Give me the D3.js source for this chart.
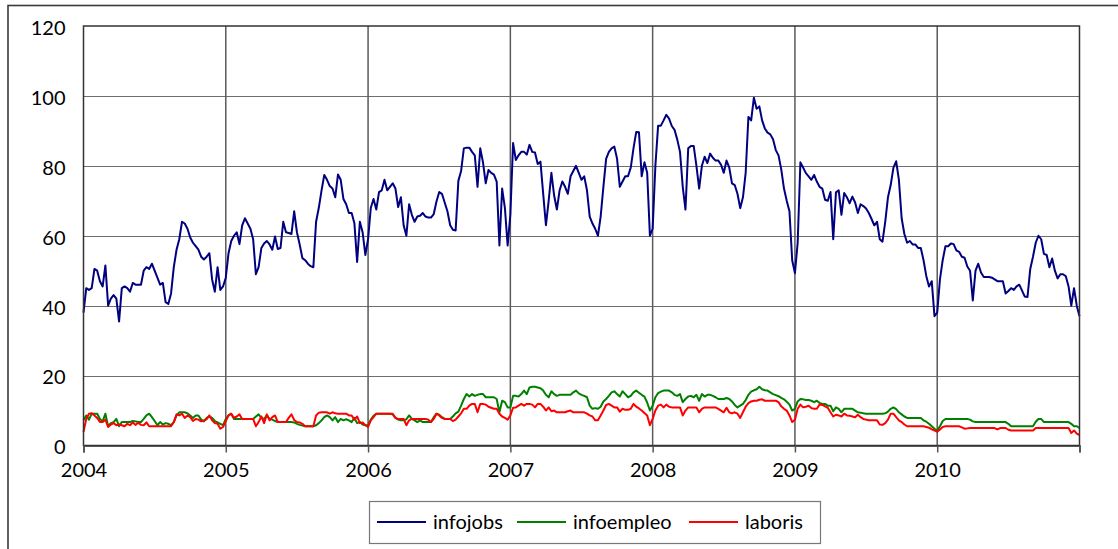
<!DOCTYPE html>
<html><head><meta charset="utf-8">
<script src="https://cdn.jsdelivr.net/npm/d3@7"></script>
<style>
body{margin:0;background:#fff}
svg{display:block}
text{font-family:Lato,"Open Sans",sans-serif;fill:#000}
</style>
</head><body>
<svg id="chart" width="1118" height="549"></svg>
<script>
// ---- data (weekly values, first week of 2004 to last week of 2010) ----
const yearLabels = ["2004","2005","2006","2007","2008","2009","2010"];
const yTickValues = [0,20,40,60,80,100,120];
const seriesNames = ["infojobs","infoempleo","laboris"];
const seriesColors = ["#000080","#008000","#ff0000"];

const infojobs = [
 38,45,44.5,45,50.5,50,47,45.5,51.5,40,42,43,42,35.5,45,45.5,45,44,46.5,46,46,46,50,51,50.5,52,
 50,48,46,46.5,41,40.5,43.5,51,56,59,64,63.5,62,59.5,58,57,56,54,53.2,54,55,47.5,44,51,44.5,45.5,
 48,55,58.5,60,61,57.6,63,65,63.5,62,59,49,51,56.5,57.8,58.5,57.5,56,59.8,56.2,56.5,64,61,60.8,
 60.5,67,61,57.5,53.6,53,52,51.3,51,64,68,73,77.4,76,74.2,73.5,71,77.5,76,70.5,69,66.5,66.5,63.6,52.5,64,61,54.5,
 59,68,70.5,67.5,72.5,73,76,73,74,75,73.5,68.2,71,63,60,69,66,64,65.5,65.7,66.5,65.5,65.2,65.2,66.2,69.8,
 72.5,72,69.5,67,63,61.7,61.5,75.7,78.5,85,85.2,85.2,84,83,74,85,81,75,78.8,78,77.5,75.5,57.2,73.5,68,57.2,
 66,86.5,81.7,83,84,84,83.2,86,84,83.8,80.5,81.2,72,63,70,78,71.5,67.5,73,75.5,74,72,77,78.5,80,78,
 76,77,73,65.5,63.5,62,60,65.5,74,82,84,85,85.5,82,74,75.5,77,77,79.5,85,89.7,89.6,77,81,78,60,
 62,80,91.5,91.5,93,94.6,93.5,91.4,90.3,87.5,84,74,67.5,85,85.7,85.7,80,73.5,80,82.6,80.8,83.5,82.3,81.5,81.5,80.3,
 78,81.5,79.5,75,74.5,72,67.9,71,78,94,93,99.5,96.3,97,93,90.7,89.5,89,87.6,84.5,83,79,73.5,70,67,53,
 49.3,58,81,79.5,77.9,77,76,77.4,75.5,74,73.5,70.3,70,72.5,59,72.4,73,66,72.2,71,69.3,71.2,69.5,66.5,69,68.5,
 67.8,66.5,64.8,63,64,59,58.3,64,71,74.5,79.5,81.3,76,65,60.5,58,58.5,57.5,57.5,56.5,56.5,53,48.5,45.5,47,37,
 38,47.5,53,57,57,57.8,57.6,55.8,55.4,54,53.7,51.2,50,41.5,50,52,49.5,48.2,48.2,48.2,48,47.5,47,47,47,43.5,
 44.2,45,44.5,45.5,46,44.3,42.6,42.5,50.5,54,58,60,59,54.8,54.5,51,53.5,50,47.8,49,49,48.4,45.5,40,45,40,37
];

const infoempleo = [
 7.2,8.6,7.4,9.1,9.1,9.1,7.6,6.9,9.1,5.5,6.4,6.7,7.6,5.5,6.7,6.7,6.7,6.7,7.0,6.9,6.7,6.7,7.6,8.6,9.1,8.1,
 7.0,5.8,6.7,6.0,6.4,6.2,5.8,6.7,8.6,9.5,9.5,9.5,9.2,8.6,7.9,8.6,8.6,7.4,6.9,7.9,8.3,7.9,7.0,6.6,6.2,5.8,
 7.6,8.6,9.1,7.6,7.6,7.6,7.6,7.6,7.6,7.6,7.6,8.3,8.9,7.9,7.6,8.6,7.6,7.4,7.0,6.7,6.7,6.7,6.7,6.7,6.7,6.6,
 6.2,5.9,5.7,5.5,5.5,5.5,5.5,5.8,6.4,7.2,8.1,8.6,8.1,7.2,8.1,6.7,7.6,7.2,7.5,7.2,6.7,7.9,6.4,6.7,6.0,5.8,
 5.8,7.4,8.5,9.1,9.1,9.1,9.1,9.1,9.1,8.9,7.9,7.4,7.2,7.2,7.5,8.6,7.6,7.2,6.7,7.2,6.7,6.7,6.7,6.7,8.1,9.1,
 8.8,8.1,7.6,7.6,7.6,8.3,9.2,9.7,11.4,13.3,14.7,14.0,14.7,14.2,14.5,14.7,14.7,13.8,13.8,13.8,13.8,13.3,9.5,12.8,12.4,10.9,
 10.9,14.2,14.2,14.0,14.7,15.7,14.7,16.6,16.8,16.8,16.6,16.4,15.7,14.5,13.8,15.5,14.7,14.2,14.5,14.5,14.5,14.5,14.5,15.2,15.7,14.9,
 14.5,14.2,13.8,11.4,10.5,10.7,10.5,11.1,12.6,13.3,14.2,15.2,15.5,14.7,14.0,15.5,14.7,13.8,14.2,15.2,15.7,15.1,14.5,14.0,12.3,10.0,
 11.4,13.8,15.0,15.4,15.7,15.7,15.7,15.2,14.5,14.2,14.7,12.4,13.3,14.0,14.2,13.8,14.5,12.8,14.7,14.0,14.5,14.5,14.2,13.8,13.3,13.3,
 13.3,13.6,13.3,12.6,11.6,10.9,11.4,11.9,13.0,14.5,15.4,15.8,16.1,16.8,16.1,15.8,15.7,15.2,14.7,14.4,14.1,13.6,13.2,12.5,11.7,10.0,
 10.5,12.6,13.3,13.2,13.0,13.0,12.8,12.4,12.8,12.2,11.9,11.9,11.4,11.4,9.8,10.9,10.5,9.5,10.5,10.5,10.5,10.5,10.0,9.5,9.4,9.2,
 9.1,9.1,9.1,9.1,9.1,9.1,9.1,9.2,9.7,10.5,10.9,10.4,9.5,8.9,8.3,7.9,7.9,7.9,7.9,7.9,7.9,7.2,6.8,6.2,5.5,4.8,
 4.3,5.5,7.0,7.6,7.6,7.6,7.6,7.6,7.6,7.6,7.6,7.6,7.4,6.9,6.7,6.7,6.7,6.7,6.7,6.7,6.7,6.7,6.7,6.7,6.7,6.7,
 6.2,5.5,5.5,5.5,5.5,5.5,5.5,5.5,5.5,5.5,6.8,7.6,7.6,6.7,6.7,6.7,6.7,6.7,6.7,6.7,6.7,6.7,6.7,6.2,5.5,5.5,5.0
];

const laboris = [
 3.9,7.6,9.1,9.2,8.6,7.9,6.7,6.7,7.4,5.3,6.0,6.4,5.8,6.0,5.8,5.5,6.2,5.8,6.6,5.9,6.5,5.9,5.8,6.6,5.5,5.5,
 5.5,5.5,5.5,5.5,5.5,5.5,5.5,6.7,8.9,8.6,9.1,7.9,8.6,8.1,7.0,7.6,7.4,6.9,7.2,7.5,8.6,7.2,6.4,6.2,4.8,5.3,
 7.0,8.6,9.1,7.9,8.3,8.9,7.6,7.6,7.6,7.6,7.6,5.5,6.7,8.3,6.4,8.9,7.2,8.1,8.6,6.7,6.7,6.7,6.7,7.9,8.9,7.3,
 6.7,6.6,6.2,5.5,5.5,5.5,5.5,8.6,9.4,9.5,9.5,9.5,9.1,9.5,9.2,9.1,9.1,9.1,9.1,8.6,8.6,7.4,8.3,6.4,6.6,5.8,
 5.3,7.2,8.1,9.1,9.1,9.1,9.1,9.1,9.1,9.1,7.9,7.6,7.6,7.6,5.8,7.2,7.6,7.6,7.6,7.6,7.6,7.6,7.4,6.7,7.6,9.1,
 8.6,7.9,7.6,7.6,7.6,7.0,7.4,8.3,9.2,10.5,10.5,11.4,11.9,11.9,9.5,11.9,11.9,11.7,11.1,10.8,10.5,10.5,9.1,8.3,7.9,7.4,
 8.6,10.8,10.9,11.4,11.9,11.4,11.9,11.9,11.7,10.9,11.9,11.9,11.1,10.0,10.9,9.8,10.0,9.5,9.5,9.5,9.5,9.8,10.0,9.5,9.5,9.5,
 9.5,9.5,9.1,8.6,8.3,7.2,7.2,8.6,10.0,11.6,11.9,11.4,10.9,10.9,9.7,10.5,10.2,10.2,10.5,11.9,11.1,10.6,10.0,9.3,8.6,5.8,
 7.6,10.0,11.4,11.7,10.9,11.7,11.1,10.9,10.9,10.9,10.9,8.6,10.0,10.9,10.9,10.9,10.9,9.5,10.5,10.9,10.9,10.9,10.9,10.9,10.5,10.0,
 9.5,10.8,9.5,9.2,9.5,9.1,7.9,9.5,11.1,12.1,12.6,12.8,12.8,13.1,13.2,12.8,12.8,12.8,12.8,12.8,12.4,11.2,10.5,10.0,8.6,6.7,
 7.4,10.5,11.7,10.9,11.1,11.4,10.7,10.5,10.5,11.7,11.6,11.2,10.8,9.5,8.3,8.8,8.6,8.3,9.1,8.6,8.5,8.3,8.1,8.8,8.1,7.6,
 7.4,7.2,7.2,7.2,7.2,6.0,5.9,6.4,7.4,9.1,9.1,8.1,7.2,6.7,6.0,5.5,5.5,5.5,5.5,5.5,5.5,5.5,5.3,5.1,4.6,4.3,
 3.9,4.6,5.3,5.5,5.5,5.5,5.5,5.5,5.5,5.2,4.8,4.9,5.0,5.0,5.0,5.0,5.0,5.0,5.0,5.0,5.0,5.0,4.6,5.0,5.0,5.0,
 4.5,4.3,4.3,4.3,4.3,4.3,4.3,4.3,4.3,4.3,5.0,5.0,5.0,5.0,5.0,5.0,5.0,5.0,5.0,5.0,5.0,5.0,5.0,3.6,4.3,3.4,3.0
];

// ---- layout ----
const svg = d3.select("#chart");
const L = 83.5, R = 1079.5, T = 26, B = 445.5;
const weeksPerYear = 52;
const nWeeks = infojobs.length - 1;
const x = d3.scaleLinear().domain([0, nWeeks]).range([L, R]);
const y = d3.scaleLinear().domain([0, 120]).range([B, T]);

// outer chart frame
svg.append("rect").attr("x",8).attr("y",5.5).attr("width",1200).attr("height",700)
  .attr("fill","none").attr("stroke","#3a3a3a").attr("stroke-width",1.6);

// horizontal gridlines
svg.append("g").selectAll("line").data(yTickValues.filter(v=>v>0 && v<120)).join("line")
  .attr("x1",L).attr("x2",R).attr("y1",d=>Math.round(y(d))+0.5).attr("y2",d=>Math.round(y(d))+0.5)
  .attr("stroke","#6e6e6e").attr("stroke-width",1.2);

// vertical year gridlines
const yearTicks = d3.range(0, yearLabels.length + 1).map(k => k * weeksPerYear);
svg.append("g").selectAll("line").data(yearTicks.slice(1, -1)).join("line")
  .attr("x1",d=>x(d)).attr("x2",d=>x(d)).attr("y1",T).attr("y2",B)
  .attr("stroke","#5a5a5a").attr("stroke-width",1.5);

// series
const line = d3.line().x((d,i)=>x(i)).y(d=>y(d));
[infojobs, infoempleo, laboris].forEach((s, k) => {
  svg.append("path").datum(s).attr("d", line).attr("fill","none")
    .attr("stroke", seriesColors[k]).attr("stroke-width",2).attr("stroke-linejoin","round");
});

// plot border
svg.append("rect").attr("x",L).attr("y",T).attr("width",R-L).attr("height",B-T)
  .attr("fill","none").attr("stroke","#333").attr("stroke-width",1.5);

// y axis
const yAxis = d3.axisLeft(y).tickValues(yTickValues).tickSize(0).tickPadding(18);
const gy = svg.append("g").attr("transform",`translate(${L},0)`).call(yAxis);
gy.select(".domain").remove();
gy.selectAll("text").attr("font-size",20).attr("font-family","Lato").attr("dy","0.42em").attr("fill","#000");

// x axis
const xAxis = d3.axisBottom(x).tickValues(yearTicks).tickSize(7).tickPadding(10)
  .tickFormat((d,i)=> yearLabels[i] || "");
const gx = svg.append("g").attr("transform",`translate(0,${B})`).call(xAxis);
gx.select(".domain").attr("stroke","#333").attr("stroke-width",1.5);
gx.selectAll(".tick line").attr("stroke","#555").attr("stroke-width",1.5);
gx.selectAll("text").attr("font-size",20).attr("font-family","Lato").attr("fill","#000");

// legend
const lg = svg.append("g");
lg.append("rect").attr("x",369.5).attr("y",501.5).attr("width",451).attr("height",42)
  .attr("fill","#fff").attr("stroke","#777").attr("stroke-width",1.2);
const legendX = [377, 517, 689];
seriesNames.forEach((n,k) => {
  lg.append("line").attr("x1",legendX[k]).attr("x2",legendX[k]+49).attr("y1",522).attr("y2",522)
    .attr("stroke",seriesColors[k]).attr("stroke-width",2);
  lg.append("text").attr("x",legendX[k]+56).attr("y",529).attr("font-size",20).text(n);
});
</script>
</body></html>
